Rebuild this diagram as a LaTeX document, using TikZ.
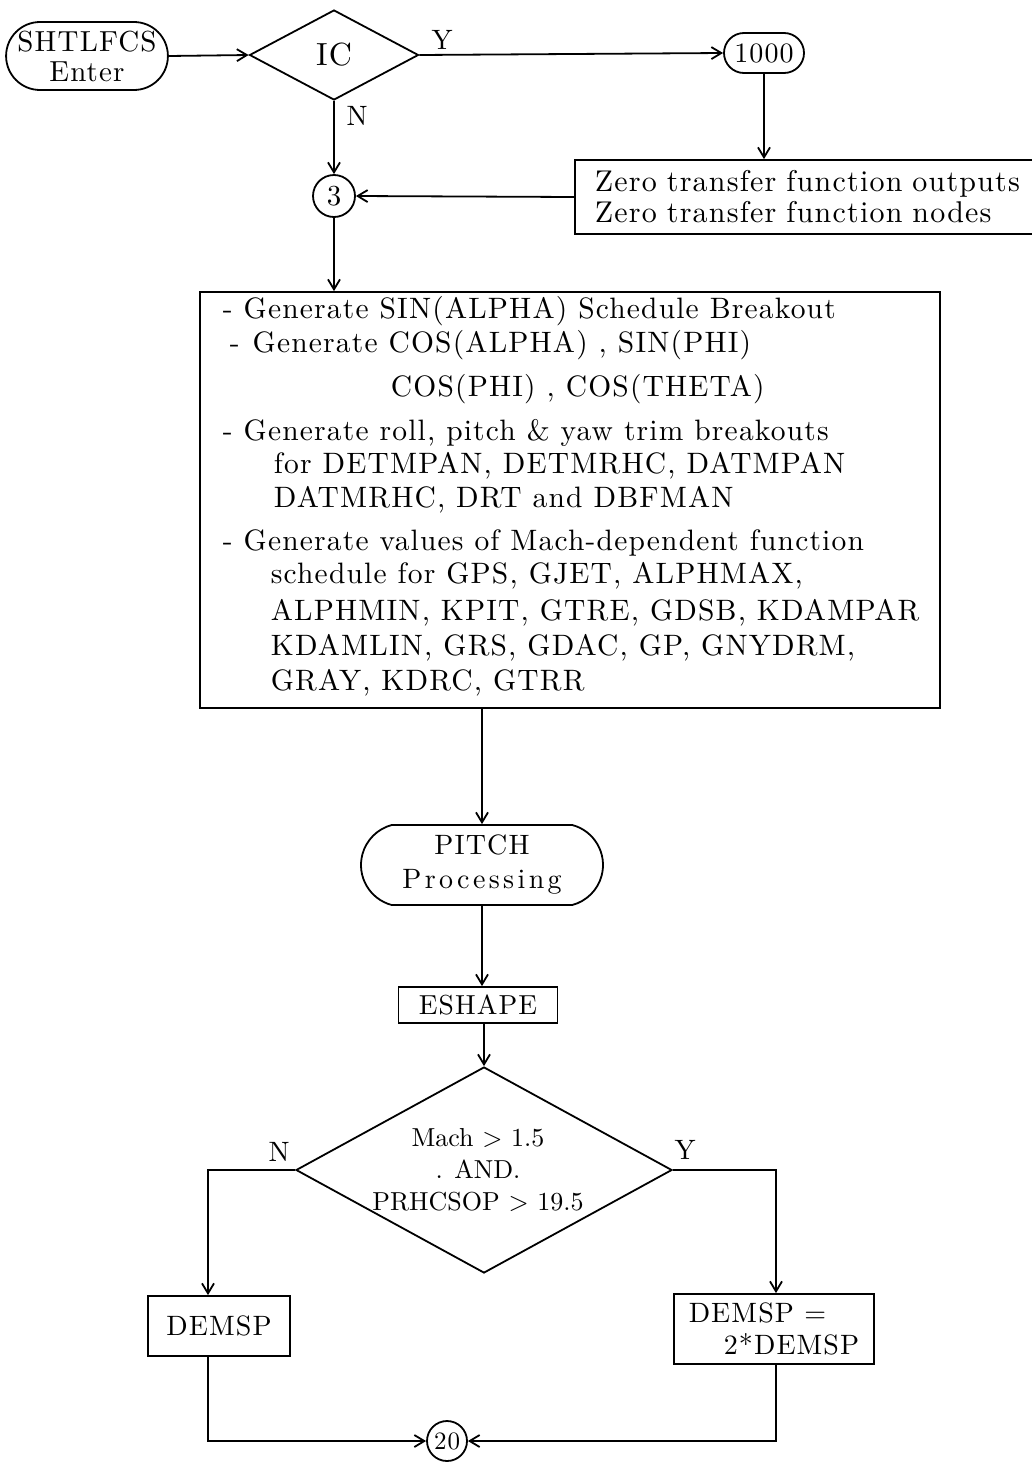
\documentclass[tikz,border=0pt]{standalone}
\usepackage{fontspec}
\usetikzlibrary{arrows.meta,shapes.geometric,shapes.misc,calc}
% typewriter-like spacing for the chart lettering
\newfontfamily\chartfont[LetterSpace=4]{lmroman10-regular.otf}
\newfontfamily\widefont[LetterSpace=12]{lmroman10-regular.otf}
\newfontfamily\tightfont{lmroman10-regular.otf}
\begin{document}
\begin{tikzpicture}[x=1pt,y=-1pt,line width=1.8pt,
  every node/.style={inner sep=0pt},
  fnt/.style n args={2}{font=\chartfont\fontsize{#1}{#2}\selectfont},
  conn/.style={-{Straight Barb[length=10pt,width=12pt,line width=1.8pt]}},
  term/.style={draw, rounded rectangle},
  proc/.style={draw, rectangle},
  decision/.style={draw, diamond},
  joint/.style={draw, circle},
  yn/.style={fnt={28}{28}},
  listline/.style={anchor=base west, fnt={29.5}{34}},
]
\useasboundingbox (0,0) rectangle (1032,1467);

% ---- entry and initial-condition test
\node[term, minimum width=158pt, minimum height=68pt, align=center, fnt={29}{30}]
  (enter) at (87,56) {SHTLFCS\\Enter};
\node[decision, minimum width=169pt, minimum height=90pt, fnt={32}{32}]
  (ic) at (334,55) {IC};
\node[term, minimum width=80pt, minimum height=40pt, fnt={28}{28}]
  (n1000) at (764,53) {1000};
\node[proc, anchor=west, text width=430pt, minimum height=74pt, inner xsep=20pt,
  align=left, fnt={30}{31}]
  (zero) at (574,197) {Zero transfer function outputs\\Zero transfer function nodes};
\node[joint, minimum size=42pt, fnt={29}{29}] (c3) at (334,196) {3};

\draw[conn] (enter.east) -- (ic.west);
\draw[conn] (ic.east) -- (n1000.west);
\node[yn] (ylab1) at (442,40) {Y};
\draw[conn] (n1000.south) -- (n1000.south |- zero.north);
\draw[conn] (ic.south) -- (c3.north);
\node[yn] (nlab1) at (357,116) {N};
\draw[conn] (zero.west) -- (c3.east);

% ---- schedule breakout block
\node[proc, minimum width=740pt, minimum height=416pt] (big) at (570,500) {};
\node[listline] (l1) at (222,318) {- Generate SIN(ALPHA) Schedule Breakout};
\node[listline] (l2) at (229,352) {-\hspace{13pt}Generate COS(ALPHA) , SIN(PHI)};
\node[listline] (l3) at (390,396) {COS(PHI) , COS(THETA)};
\node[listline] (l4) at (222,440) {- Generate roll, pitch \& yaw trim breakouts};
\node[listline] (l5) at (273,473) {for DETMPAN, DETMRHC, DATMPAN};
\node[listline] (l6) at (273,507) {DATMRHC, DRT and DBFMAN};
\node[listline] (l7) at (222,550) {- Generate values of Mach-dependent function};
\node[listline] (l8) at (270,583) {schedule for GPS, GJET, ALPHMAX,};
\node[listline] (l9) at (270,620) {ALPHMIN, KPIT, GTRE, GDSB, KDAMPAR};
\node[listline] (l10) at (270,655) {KDAMLIN, GRS, GDAC, GP, GNYDRM,};
\node[listline] (l11) at (270,690) {GRAY, KDRC, GTRR};
\draw[conn] (c3.south) -- (c3.south |- big.north);

% ---- pitch processing
\node[term, rounded rectangle arc length=150, minimum width=242pt, minimum height=80pt,
  align=center, fnt={28}{34}]
  (pitch) at (482,865) {PITCH\\{\widefont Processing}};
\node[proc, minimum width=159pt, minimum height=36pt, fnt={27.5}{27.5}]
  (eshape) at (478,1005) {ESHAPE};
\draw[conn] (pitch.north |- big.south) -- (pitch.north);
\draw[conn] (pitch.south) -- (pitch.south |- eshape.north);

% ---- Mach / PRHCSOP test
\node[decision, minimum width=376pt, minimum height=206pt] (dec) at (484,1170) {};
\node[align=center, font=\tightfont\fontsize{26}{32}\selectfont] (dectext) at (478,1170)
  {Mach > 1.5\\. AND.\\PRHCSOP > 19.5};
\draw[conn] (eshape.south -| dec.north) -- (dec.north);

\node[proc, minimum width=142pt, minimum height=60pt, fnt={28}{28}]
  (demsp) at (219,1326) {DEMSP};
\node[proc, minimum width=200pt, minimum height=70pt, align=left, fnt={28}{32}]
  (demsp2) at (774,1329) {DEMSP =\\\hspace*{35pt}2*DEMSP};
\node[joint, minimum size=40pt, fnt={25}{25}] (c20) at (447,1441) {20};

\coordinate (nturn) at (208,1170);
\coordinate (yturn) at (776,1170);
\node[yn] (nlab2) at (279,1152) {N};
\node[yn] (ylab2) at (685,1150) {Y};
\draw[conn] (dec.west) -- (nturn) -- (nturn |- demsp.north);
\draw[conn] (dec.east) -- (yturn) -- (yturn |- demsp2.north);
\draw[conn] (nturn |- demsp.south) -- (nturn |- c20) -- (c20.west);
\draw[conn] (yturn |- demsp2.south) -- (yturn |- c20) -- (c20.east);
\end{tikzpicture}
\end{document}
